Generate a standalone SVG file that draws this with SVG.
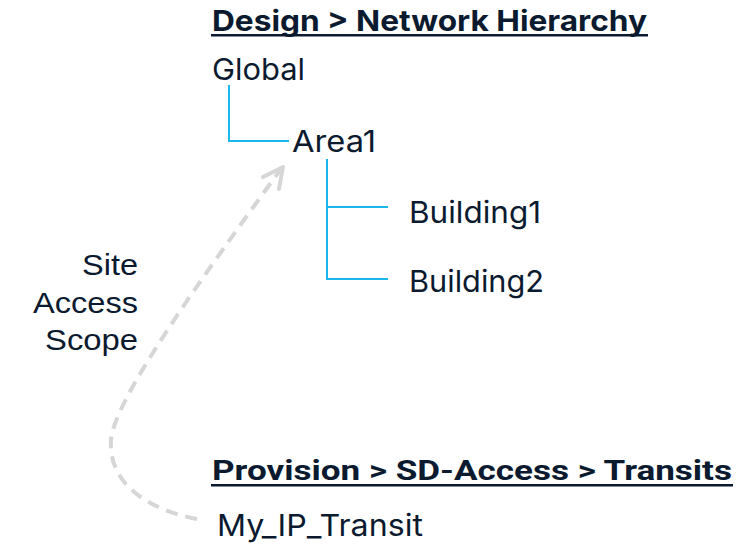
<svg xmlns="http://www.w3.org/2000/svg" width="753" height="545" viewBox="0 0 753 545">
  <style>
    .title { font-family: Inter, "Liberation Sans", sans-serif; font-weight: 700; font-size: 29px; fill: #0b1a2f; }
    .cond { font-family: Roboto, "Liberation Sans", sans-serif; font-weight: 700; font-size: 28px; fill: #0b1a2f; }
    .node { font-family: Inter, "Liberation Sans", sans-serif; font-weight: 400; font-size: 30px; fill: #0b1a2f; }
    .label { font-family: "Liberation Sans", Arial, sans-serif; font-size: 29px; fill: #0b1a2f; }
    .rule { fill: #0b1a2f; }
    .tree { fill: none; stroke: #1ab8ea; stroke-width: 2; }
    .scope { fill: none; stroke: #d6d6d6; stroke-width: 4; }
  </style>

  <!-- section headings -->
  <g id="design-heading">
    <text class="title" x="212" y="31" textLength="435" lengthAdjust="spacingAndGlyphs">Design &gt; Network Hierarchy</text>
    <rect class="rule" x="211" y="34" width="437" height="2.5"/>
  </g>
  <g id="provision-heading">
    <text class="cond" x="212" y="480" textLength="520" lengthAdjust="spacingAndGlyphs">Provision &gt; SD-Access &gt; Transits</text>
    <rect class="rule" x="211" y="484" width="522" height="2.5"/>
  </g>

  <!-- hierarchy nodes -->
  <g id="global"><text class="node" x="212" y="80" textLength="93" lengthAdjust="spacingAndGlyphs">Global</text></g>
  <g id="area1"><text class="node" x="292" y="152" textLength="84" lengthAdjust="spacingAndGlyphs">Area1</text></g>
  <g id="building1"><text class="node" x="409" y="223" textLength="132" lengthAdjust="spacingAndGlyphs">Building1</text></g>
  <g id="building2"><text class="node" x="409" y="292" textLength="135" lengthAdjust="spacingAndGlyphs">Building2</text></g>
  <g id="transit"><text class="node" x="217" y="536" textLength="206" lengthAdjust="spacingAndGlyphs">My_IP_Transit</text></g>

  <g id="scope-label">
    <text class="label" x="82" y="275" textLength="56" lengthAdjust="spacingAndGlyphs">Site</text>
    <text class="label" x="33" y="313" textLength="105" lengthAdjust="spacingAndGlyphs">Access</text>
    <text class="label" x="45" y="350" textLength="93" lengthAdjust="spacingAndGlyphs">Scope</text>
  </g>

  <!-- connectors -->
  <g id="connectors">
    <polyline class="tree" points="229,85 229,141 289,141"/>
    <polyline class="tree" points="327,159 327,279 388,279"/>
    <line class="tree" x1="327" y1="207" x2="388" y2="207"/>
    <path class="scope" stroke-dasharray="12 8" d="M197,519 C150,510 108,485 111,440 C114,400 200,280 281,169"/>
    <polyline class="scope" stroke-linecap="round" stroke-linejoin="round" points="263,177 283,167 279,189"/>
  </g>
</svg>
